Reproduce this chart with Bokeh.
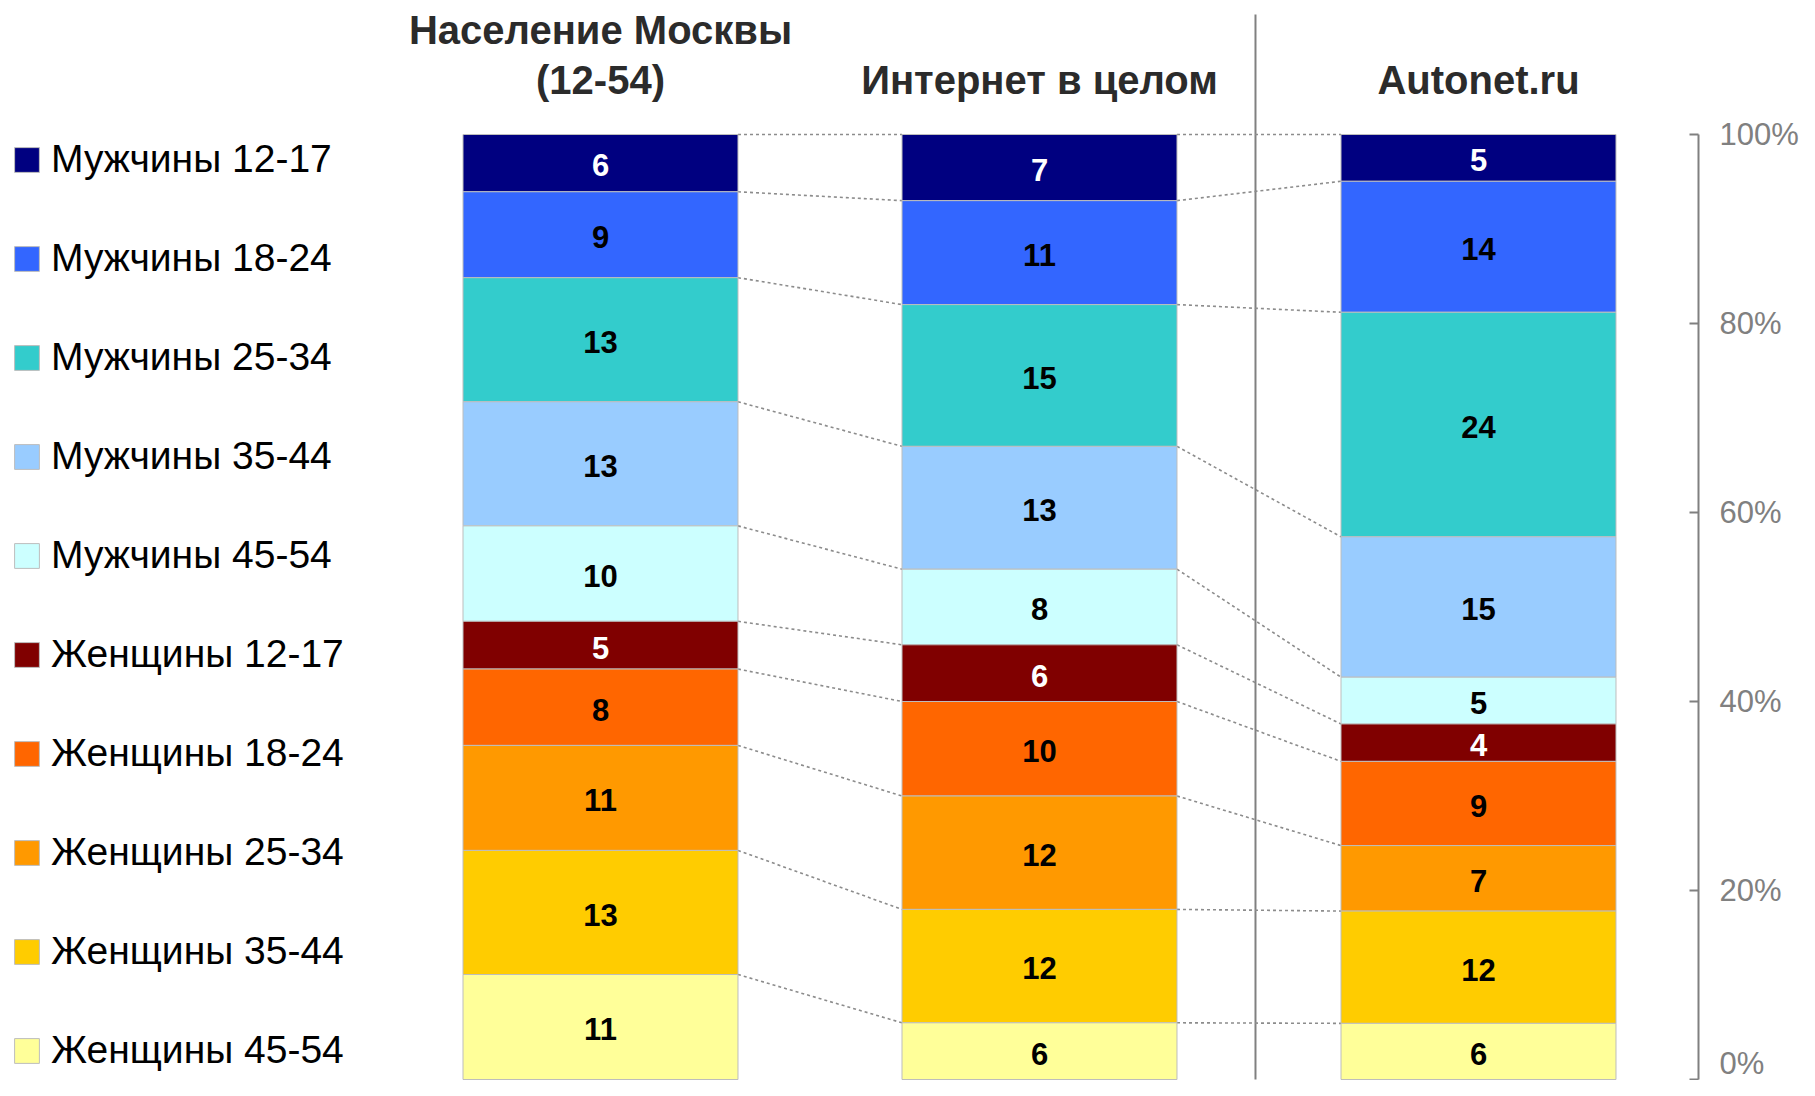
import numpy as np
from bokeh.plotting import figure
from bokeh.models import ColumnDataSource, Range1d, FixedTicker, Legend, LegendItem
from bokeh.core.properties import value
from bokeh.embed import file_html
from bokeh.resources import INLINE

# ---------------- data ----------------
title_lines = [["Население Москвы", "(12-54)"], ["Интернет в целом"], ["Autonet.ru"]]
series = ["Мужчины 12-17", "Мужчины 18-24", "Мужчины 25-34", "Мужчины 35-44", "Мужчины 45-54",
          "Женщины 12-17", "Женщины 18-24", "Женщины 25-34", "Женщины 35-44", "Женщины 45-54"]
colors = ["#000080", "#3366FF", "#33CCCC", "#99CCFF", "#CCFFFF",
          "#800000", "#FF6600", "#FF9900", "#FFCC00", "#FFFF99"]
label_colors = ["white", "black", "black", "black", "black",
                "white", "black", "black", "black", "black"]

m_12_17 = [6, 7, 5]
m_18_24 = [9, 11, 14]
m_25_34 = [13, 15, 24]
m_35_44 = [13, 13, 15]
m_45_54 = [10, 8, 5]
f_12_17 = [5, 6, 4]
f_18_24 = [8, 10, 9]
f_25_34 = [11, 12, 7]
f_35_44 = [13, 12, 12]
f_45_54 = [11, 6, 6]
values = [m_12_17, m_18_24, m_25_34, m_35_44, m_45_54,
          f_12_17, f_18_24, f_25_34, f_35_44, f_45_54]

ticks = [0, 20, 40, 60, 80, 100]

# ---------------- layout constants ----------------
FRAME_W, FRAME_H = 1698, 1080
TOP_PX, BOT_PX = 134, 1079   # pixel rows of 100% and 0%
PX_Y = (BOT_PX - TOP_PX) / 100.0
PX_X = 439.0                 # pixels per bar step
X0_PX = 600                  # pixel column of first bar centre
BAR_W = 0.6264
FONT = "Liberation Sans"

xs = [0, 1, 2]
arr = np.array(values, dtype=float)
pct = arr / arr.sum(axis=0) * 100.0
n = len(series)
tops = np.zeros_like(pct)
bottoms = np.zeros_like(pct)
running = np.zeros(pct.shape[1])
for i in range(n - 1, -1, -1):
    bottoms[i] = running
    running = running + pct[i]
    tops[i] = running

p = figure(frame_width=FRAME_W, frame_height=FRAME_H,
           x_range=Range1d(-X0_PX / PX_X, (FRAME_W - X0_PX) / PX_X),
           y_range=Range1d(-(FRAME_H - BOT_PX) / PX_Y, 100 + TOP_PX / PX_Y),
           x_axis_location=None, y_axis_location="right",
           toolbar_location=None, output_backend="svg", min_border=0)
p.grid.visible = False
p.outline_line_color = None
p.background_fill_color = "white"

# separator between "Интернет в целом" and "Autonet.ru"
p.segment(x0=[1.492], y0=[0], x1=[1.492], y1=[100 + (TOP_PX - 14) / PX_Y],
          line_color="#808080", line_width=2)

# connector dotted lines
cx0, cy0, cx1, cy1 = [], [], [], []
for i in range(n):
    for j in range(len(xs) - 1):
        cx0.append(xs[j] + BAR_W / 2)
        cy0.append(tops[i][j])
        cx1.append(xs[j + 1] - BAR_W / 2)
        cy1.append(tops[i][j + 1])
p.segment(x0=cx0, y0=cy0, x1=cx1, y1=cy1, line_color="#8c8c8c", line_width=1.6, line_dash="3 3")

renderers = []
for i in range(n):
    src = ColumnDataSource(dict(x=xs, bottom=bottoms[i], top=tops[i]))
    r = p.vbar(x="x", bottom="bottom", top="top", width=BAR_W, source=src,
               fill_color=colors[i], line_color="#bdbdbd", line_width=1)
    renderers.append(r)

# value labels
lx, ly, lt, lc = [], [], [], []
for i in range(n):
    for j in range(len(xs)):
        lx.append(xs[j])
        ly.append((bottoms[i][j] + tops[i][j]) / 2 - 0.25)
        lt.append(str(values[i][j]))
        lc.append(label_colors[i])
p.text(x=lx, y=ly, text=lt, text_color=lc, text_align="center", text_baseline="middle",
       text_font=value(FONT), text_font_style="bold", text_font_size="31px")

# column titles
tx, ty, tt = [], [], []
base_y = 100 + (TOP_PX - 79) / PX_Y
for j, lines in enumerate(title_lines):
    for k, line in enumerate(reversed(lines)):
        tx.append(xs[j])
        ty.append(base_y + k * 50 / PX_Y)
        tt.append(line)
p.text(x=tx, y=ty, text=tt, text_color="#2b2b2b", text_align="center", text_baseline="middle",
       text_font=value(FONT), text_font_style="bold", text_font_size="40px")

# right axis
ax = p.yaxis[0]
ax.ticker = FixedTicker(ticks=ticks)
ax.major_label_overrides = {t: f"{t}%" for t in ticks}
ax.bounds = (0, 100)
ax.axis_line_color = "#808080"
ax.axis_line_width = 2
ax.major_tick_line_color = "#808080"
ax.major_tick_line_width = 2
ax.major_tick_in = 9
ax.major_tick_out = 0
ax.minor_tick_line_color = None
ax.major_label_standoff = 21
ax.major_label_text_font = FONT
ax.major_label_text_font_size = "31px"
ax.major_label_text_color = "#808080"

legend = Legend(items=[LegendItem(label=series[i], renderers=[renderers[i]]) for i in range(n)],
                location=(11, 5), orientation="vertical",
                glyph_width=31, glyph_height=31, label_height=50, spacing=49,
                padding=0, margin=0, border_line_color=None, background_fill_alpha=0,
                label_text_font=FONT, label_text_font_size="39px", label_text_color="black",
                label_standoff=9)
p.add_layout(legend)

open("out.html", "w").write(file_html(p, INLINE))
